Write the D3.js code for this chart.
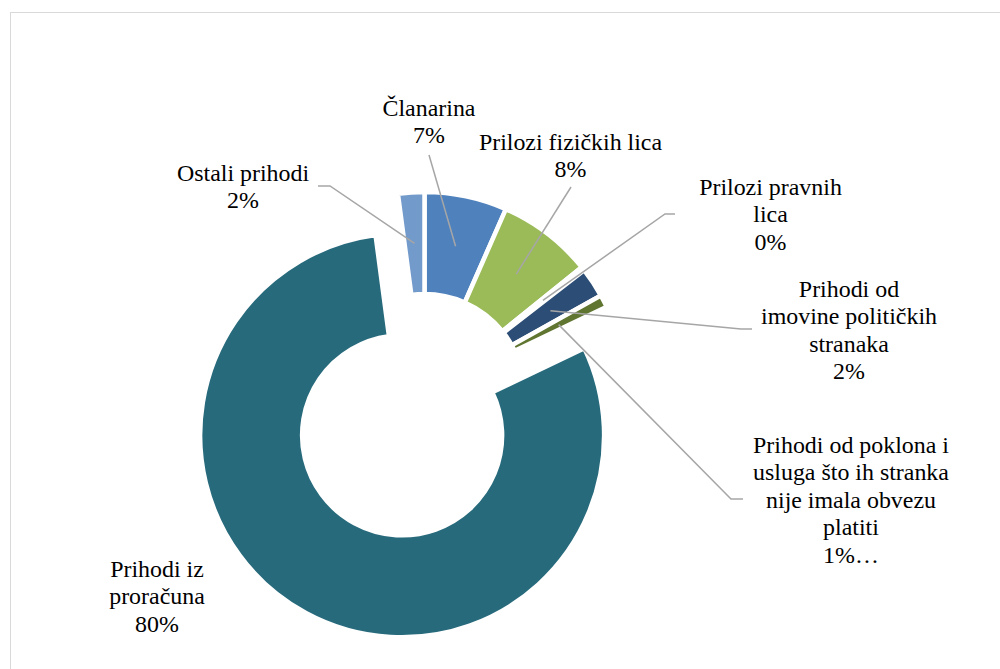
<!DOCTYPE html>
<html>
<head>
<meta charset="utf-8">
<script src="https://cdn.jsdelivr.net/npm/d3@7"></script>
<style>
  html, body { margin: 0; padding: 0; background: #fff; }
  svg { display: block; }
</style>
</head>
<body>
<svg id="chart" width="1000" height="669"></svg>
<script>
// ---- data ----
const categories = [
  "Članarina",
  "Prilozi fizičkih lica",
  "Prilozi pravnih lica",
  "Prihodi od imovine političkih stranaka",
  "Prihodi od poklona i usluga što ih stranka nije imala obvezu platiti",
  "Prihodi iz proračuna",
  "Ostali prihodi"
];
const values = [6.6, 7.6, 0.3, 2.4, 1.0, 80.0, 2.1];
const labelLines = [
  ["Članarina"],
  ["Prilozi fizičkih lica"],
  ["Prilozi pravnih", "lica"],
  ["Prihodi od", "imovine političkih", "stranaka"],
  ["Prihodi od poklona i", "usluga što ih stranka", "nije imala obvezu", "platiti"],
  ["Prihodi iz", "proračuna"],
  ["Ostali prihodi"]
];
const labelSuffix = ["", "", "", "", "…", "", ""];
const colors = ["#4F81BD", "#9BBB59", "#8064A2", "#2C4D75", "#5F7530", "#276A7C", "#729ACA"];

// ---- layout ----
const cx = 424.5, cy = 394, outerR = 202, innerR = 100;
const explode = [0, 0, 0, 0, 0, 47, 0];
const labelPos = [
  {x: 429, y: 116, leader: [[429, 155]]},
  {x: 570.5, y: 150, leader: [[571, 187]]},
  {x: 770.5, y: 195, leader: [[675, 214], [665, 214]]},
  {x: 849, y: 297, leader: [[752, 329], [741, 329]]},
  {x: 851, y: 453, leader: [[743, 499], [731, 499]]},
  {x: 157, y: 577, leader: null},
  {x: 243, y: 181, leader: [[318, 186], [330, 186]]}
];
const lineH = 27.4;

// pick an installed serif face and size it to the reference text width
const ctx = document.createElement("canvas").getContext("2d");
function w(font, s) { ctx.font = font; return ctx.measureText(s).width; }
const probe = "Prihodi od poklona i WMwm";
const candidates = ["Liberation Serif", "Tinos", "Times New Roman", "Nimbus Roman", "Nimbus Roman No9 L", "FreeSerif", "DejaVu Serif", "Noto Serif"];
let face = "serif";
for (const c of candidates) {
  const a = w(`24px "${c}", monospace`, probe), b = w("24px monospace", probe);
  const a2 = w(`24px "${c}", sans-serif`, probe), b2 = w("24px sans-serif", probe);
  if (Math.abs(a - b) > 0.5 && Math.abs(a2 - b2) > 0.5) { face = `"${c}"`; break; }
}
const fontFamily = face + ", serif";
const refW = 196;
let fontSize = 24 * refW / w(`24px ${fontFamily}`, "Prihodi od poklona i");
fontSize = Math.max(18, Math.min(26, fontSize));

const svg = d3.select("#chart");

svg.append("rect")
  .attr("x", 10.5).attr("y", 12.5)
  .attr("width", 1000).attr("height", 700)
  .attr("fill", "#fff")
  .attr("stroke", "#D9D9D9").attr("stroke-width", 1);

const total = d3.sum(values);
const pie = d3.pie().sort(null).value(d => d)(values);
const arc = d3.arc().innerRadius(innerR).outerRadius(outerR);

const g = svg.append("g").attr("transform", `translate(${cx},${cy})`);

g.selectAll("path.slice")
  .data(pie)
  .join("path")
  .attr("class", "slice")
  .attr("transform", (d, i) => {
    const a = (d.startAngle + d.endAngle) / 2;
    return `translate(${explode[i] * Math.sin(a)},${-explode[i] * Math.cos(a)})`;
  })
  .attr("d", arc)
  .attr("fill", (d, i) => colors[i])
  .attr("stroke", "#fff")
  .attr("stroke-width", 4.5);

pie.forEach((d, i) => {
  const lp = labelPos[i];
  if (!lp.leader) return;
  const c = arc.centroid(d);
  const a = (d.startAngle + d.endAngle) / 2;
  const pts = lp.leader.map(p => [p[0], p[1]]);
  pts.push([cx + c[0] + explode[i] * Math.sin(a), cy + c[1] - explode[i] * Math.cos(a)]);
  svg.append("path")
    .attr("d", d3.line()(pts))
    .attr("fill", "none")
    .attr("stroke", "#A6A6A6")
    .attr("stroke-width", 1.5);
});

pie.forEach((d, i) => {
  const lp = labelPos[i];
  const pct = Math.round(values[i] / total * 100) + "%" + labelSuffix[i];
  const lines = labelLines[i].concat([pct]);
  const t = svg.append("text")
    .attr("text-anchor", "middle")
    .style("font-family", fontFamily)
    .style("font-size", fontSize + "px")
    .attr("fill", "#000");
  lines.forEach((ln, k) => {
    t.append("tspan").attr("x", lp.x).attr("y", lp.y + k * lineH).text(ln);
  });
});
</script>
</body>
</html>
